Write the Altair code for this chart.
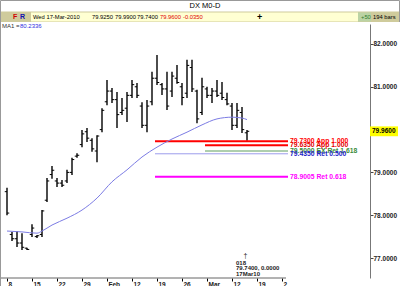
import json
import altair as alt
import pandas as pd

FONT = "Liberation Sans"

# ---------------- data ----------------
# daily OHLC bars, trading-day index 0 (Fri 8-Jan-2010) .. 48 (Wed 17-Mar-2010)
opens = [78.55, 77.55, 77.45, 77.35, 77.23, 77.55, 77.50, 77.55, 78.35, 78.95,
         78.80, 78.75, 78.80, 79.00, 79.38, 79.65, 79.95, 79.75, 79.50, 80.00,
         80.65, 80.90, 80.70, 80.40, 80.50, 80.80, 81.00, 80.55, 80.10, 80.65,
         81.20, 81.05, 80.95, 80.90, 81.20, 81.00, 80.85, 81.45, 80.90, 80.40,
         80.95, 80.80, 80.90, 80.85, 80.70, 80.55, 80.10, 80.40, 79.925]
highs = [78.64, 77.61, 77.63, 77.58, 77.24, 77.79, 77.54, 78.12, 78.87, 79.15,
         78.87, 78.82, 79.06, 79.34, 79.45, 79.99, 80.04, 79.80, 79.87, 80.50,
         81.16, 80.97, 80.88, 80.74, 80.88, 81.16, 81.09, 80.64, 80.69, 81.35,
         81.74, 81.09, 81.35, 81.35, 81.51, 81.09, 81.63, 81.63, 80.93, 81.21,
         81.00, 80.97, 81.16, 81.11, 80.86, 80.62, 80.62, 80.53, 79.99]
lows = [78.00, 77.40, 77.26, 77.19, 77.19, 77.49, 77.47, 77.49, 78.31, 78.85,
        78.66, 78.66, 78.75, 78.94, 79.34, 79.59, 79.71, 79.48, 79.24, 79.94,
        80.57, 80.62, 80.04, 80.34, 80.18, 80.74, 80.74, 80.04, 79.94, 80.57,
        81.04, 80.81, 80.46, 80.76, 81.07, 80.57, 80.74, 80.88, 80.15, 80.34,
        80.74, 80.62, 80.76, 80.69, 80.57, 79.99, 80.04, 79.92, 79.74]
closes = [78.05, 77.45, 77.35, 77.25, 77.20, 77.70, 77.52, 78.10, 78.80, 79.05,
          78.75, 78.70, 79.00, 79.30, 79.40, 79.90, 79.80, 79.55, 79.85, 80.45,
          80.90, 80.70, 80.35, 80.45, 80.80, 81.05, 80.80, 80.10, 80.55, 81.20,
          81.10, 80.95, 80.55, 81.25, 81.10, 80.75, 81.50, 80.95, 80.25, 81.00,
          80.80, 80.90, 80.80, 80.75, 80.60, 80.10, 80.45, 80.00, 79.96]

# moving average (MA1) read at selected bars
ma_idx = [0, 3, 6, 7, 9, 12, 15, 18, 21, 24, 27, 30, 33, 36, 39, 42, 45, 47, 48]
ma_val = [77.63, 77.61, 77.58, 77.63, 77.77, 77.93, 78.12, 78.40, 78.78, 79.06,
          79.36, 79.59, 79.78, 79.94, 80.11, 80.25, 80.29, 80.27, 80.2336]

# x-axis ticks (trading-day index) and labels
tick_idx = [0, 5, 10, 15, 20, 25, 30, 35, 40, 45, 50, 55]
tick_lab = ["8", "15", "22", "29", "Feb", "12", "19", "26", "Mar", "12", "19", "2"]

price_ticks = [77, 78, 79, 81, 82]

# horizontal projection levels
level_price = [79.635, 79.73, 79.50, 79.435, 78.9005]
level_text = ["79.6350 App 1.000", "79.7300 App 1.000", "79.5000 EX Ret 1.618",
              "79.4350 Ret 0.500", "78.9005 Ret 0.618"]
level_start = [39.6, 29.6, 39.6, 29.6, 29.6]
level_end = [56.2, 56.2, 56.2, 56.2, 56.2]
level_line_color = ["#FF0000", "#FF0000", "#5E9E5E", "#9C9CEC", "#FF00FF"]
level_text_color = ["#E00000", "#FF0000", "#3C8C3C", "#2323C8", "#FF00FF"]
level_width = [2, 2, 1, 1, 2]

last_close = 79.96
header_vals = ["79.9250", "79.9900", "79.7400"]
header_red = ["79.9600", "-0.0350"]
ma_label_val = "80.2336"

# ---------------- frames ----------------
n = len(opens)
bars = pd.DataFrame({"i": list(range(n)), "o": opens, "h": highs, "l": lows, "c": closes})
bars["il"] = bars["i"] - 0.45
bars["ir"] = bars["i"] + 0.45
ma = pd.DataFrame({"i": ma_idx, "v": ma_val})
lv = pd.DataFrame({"p": level_price, "t": level_text, "s": level_start, "e": level_end,
                   "lc": level_line_color, "tc": level_text_color, "w": level_width})
one = pd.DataFrame({"a": [0]})

W, H = 367, 254
OX, OY = 3, 24

xs = alt.Scale(domain=[-0.8, 72.6], nice=False, zero=False)
ys = alt.Scale(domain=[76.533, 82.467], nice=False, zero=False)

lab_expr = f"{json.dumps(tick_lab)}[indexof({json.dumps(tick_idx)}, datum.value)]"
xaxis = alt.Axis(values=tick_idx, labelExpr=lab_expr, title=None, grid=False, domain=False,
                 ticks=True, tickSize=3, tickColor="#000", labelAlign="left", labelOffset=1,
                 labelPadding=0, labelFontSize=6.5, labelFontWeight="bold",
                 labelColor="#222", labelFont=FONT, labelOverlap=False, labelFlush=False)
yaxis = alt.Axis(orient="right", values=price_ticks, format=".4f", title=None, grid=False,
                 domain=True, domainColor="#777", ticks=True, tickSize=3, tickColor="#444",
                 labelPadding=0, labelFontSize=6.5, labelFontWeight="bold",
                 labelColor="#222", labelFont=FONT, labelFlush=False, labelOverlap=False)


def X(f):
    return alt.X(f, scale=xs, axis=xaxis)


def Y(f):
    return alt.Y(f, scale=ys, axis=yaxis)


def txt(s, x, y, color="#000", size=6.5, weight="normal", align="left"):
    return alt.Chart(one).mark_text(text=s, align=align, baseline="middle", fontSize=size,
                                    fontWeight=weight, color=color, font=FONT).encode(
        x=alt.value(x - OX), y=alt.value(y - OY))


def box(x0, x1, y0, y1, fill):
    return alt.Chart(one).mark_rect(fill=fill).encode(
        x=alt.value(x0 - OX), x2=alt.value(x1 - OX), y=alt.value(y0 - OY), y2=alt.value(y1 - OY))


def line(x0, x1, y0, y1, color="#999", width=1):
    return alt.Chart(one).mark_rule(color=color, strokeWidth=width).encode(
        x=alt.value(x0 - OX), x2=alt.value(x1 - OX), y=alt.value(y0 - OY), y2=alt.value(y1 - OY))


hl = alt.Chart(bars).mark_rule(color="#000", strokeWidth=1.4).encode(
    x=X("i:Q"), y=Y("l:Q"), y2="h:Q")
op = alt.Chart(bars).mark_rule(color="#000", strokeWidth=1).encode(
    x=X("il:Q"), x2="i:Q", y=Y("o:Q"))
cl = alt.Chart(bars).mark_rule(color="#000", strokeWidth=1).encode(
    x=X("i:Q"), x2="ir:Q", y=Y("c:Q"))

ma_line = alt.Chart(ma).mark_line(color="#7C7CE4", strokeWidth=1, interpolate="monotone").encode(
    x=X("i:Q"), y=Y("v:Q"))

lv_rule = alt.Chart(lv).mark_rule().encode(
    x=X("s:Q"), x2="e:Q", y=Y("p:Q"),
    color=alt.Color("lc:N", scale=None),
    strokeWidth=alt.StrokeWidth("w:Q", scale=None))
lv_text = alt.Chart(lv).mark_text(align="left", baseline="middle", dx=2, fontSize=6.8,
                                  fontWeight="bold", font=FONT).encode(
    x=X("e:Q"), y=Y("p:Q"), text="t:N", color=alt.Color("tc:N", scale=None))

lastbox = alt.Chart(pd.DataFrame({"p": [last_close]})).mark_rect(fill="#FFFF00").encode(
    x=alt.value(W), x2=alt.value(W + 28),
    y=Y("lo:Q"), y2="hi:Q").transform_calculate(lo="datum.p - 0.115", hi="datum.p + 0.115")
lasttxt = alt.Chart(pd.DataFrame({"p": [last_close]})).mark_text(
    align="left", baseline="middle", fontSize=6.5, fontWeight="bold", font=FONT, color="#000").encode(
    x=alt.value(W + 2), y=Y("p:Q"), text=alt.Text("p:Q", format=".4f"))

HS = 5.8  # header font size
layers = [
    # header
    box(0, 400, 0, 11.5, "#FFFFFF"),
    box(0, 400, 11.5, 22, "#CFCB9C"),
    box(31, 358, 12.5, 21.5, "#FFFFD2"),
    box(358, 371, 12.5, 21.5, "#BBD3A4"),
    line(0.5, 399.5, 0.5, 0.5),
    line(0.5, 0.5, 0.5, 286),
    line(399.5, 399.5, 0.5, 22),
    txt("DX M0-D", 205, 6, size=7.5, align="center"),
    txt("F", 13, 17, color="#D00000", size=7, weight="bold"),
    txt("R", 20, 17, color="#1010B0", size=7, weight="bold"),
    txt("Wed 17-Mar-2010", 33, 17, size=HS),
    txt(header_vals[0], 92, 17, size=HS),
    txt(header_vals[1], 115, 17, size=HS),
    txt(header_vals[2], 137, 17, size=HS),
    txt(header_red[0], 160, 17, color="#E00000", size=HS),
    txt(header_red[1], 183, 17, color="#E00000", size=HS),
    txt("+", 257, 17, size=9, weight="bold"),
    txt("+50", 361, 17, color="#2E7D2E", size=HS),
    txt("194 bars", 373, 17, size=HS),
    txt("MA1 =", 2, 25.5, color="#333", size=6),
    txt(ma_label_val, 20, 25.5, color="#3030E0", size=6),
    # plot
    line(1, 286, 278, 278, color="#666"),
    hl, op, cl, lv_rule, ma_line, lv_text,
    lastbox, lasttxt,
    # cursor annotation
    txt("\u2020", 243.5, 256, color="#222", size=7),
    txt("018", 236, 262.5, color="#222", size=6, weight="bold"),
    txt("79.7400, 0.0000", 236, 268, color="#222", size=6, weight="bold"),
    txt("17Mar10", 236, 273.5, color="#222", size=6, weight="bold"),
]

chart = alt.layer(*layers).properties(
    width=W, height=H, autosize=alt.AutoSizeParams(type="none"),
    padding={"left": OX, "top": OY, "right": 400 - OX - W, "bottom": 286 - OY - H},
    background="#FFFFFF",
).configure_view(stroke="transparent")

chart.save("out.html", embed_options={"renderer": "svg", "actions": False})
